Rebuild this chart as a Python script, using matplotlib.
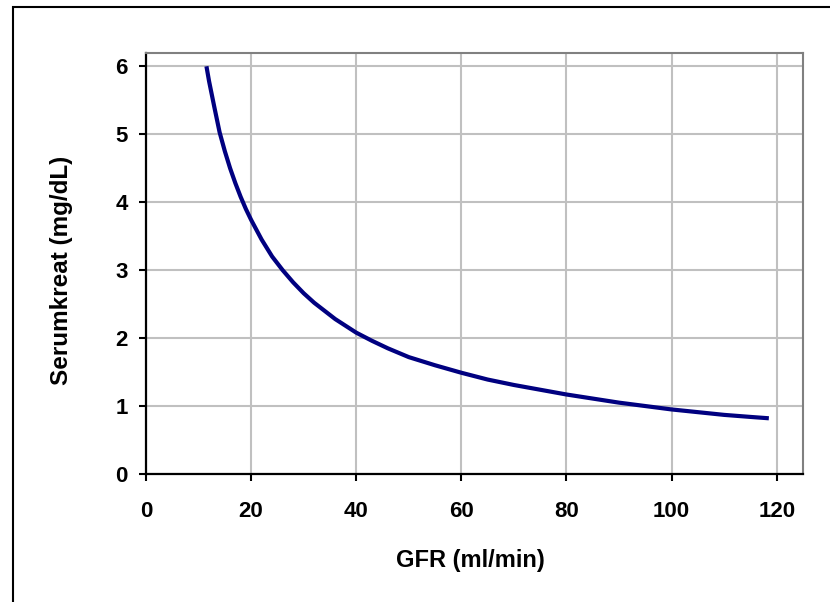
import matplotlib
matplotlib.use("Agg")
import matplotlib.pyplot as plt
from matplotlib.patches import Rectangle

gfr = [11.5, 12, 13, 14, 15, 16, 17, 18, 19, 20, 22, 24, 26, 28, 30, 32, 34, 36, 38, 40,
       43, 46, 50, 55, 60, 65, 70, 75, 80, 85, 90, 95, 100, 105, 110, 115, 118.5]
creat = [6.0, 5.78, 5.4, 5.03, 4.75, 4.5, 4.28, 4.08, 3.9, 3.74, 3.45, 3.2, 3.0, 2.82, 2.66,
         2.52, 2.4, 2.28, 2.18, 2.08, 1.96, 1.85, 1.72, 1.6, 1.49, 1.39, 1.31, 1.24, 1.17,
         1.11, 1.05, 1.0, 0.95, 0.91, 0.87, 0.84, 0.82]
xticks = [0, 20, 40, 60, 80, 100, 120]
yticks = [0, 1, 2, 3, 4, 5, 6]

plt.rcParams['font.family'] = ['Liberation Sans', 'DejaVu Sans']
plt.rcParams['font.weight'] = 'bold'

fig = plt.figure(figsize=(8.3, 6.02), dpi=100)
W, H = 830, 602
ax = fig.add_axes([146 / W, 1 - 474 / H, (803 - 146) / W, (474 - 52.7) / H])

ax.plot(gfr, creat, color='#000080', lw=3.0, solid_capstyle='butt', zorder=3)

ax.set_xlim(0, 125)
ax.set_ylim(0, 6.2)
ax.set_xticks(xticks)
ax.set_yticks(yticks)
ax.grid(True, color='#c0c0c0', lw=1.5, zorder=0)
ax.set_axisbelow(True)

for s in ['top', 'right']:
    ax.spines[s].set_color('#808080')
    ax.spines[s].set_linewidth(1.5)
for s in ['left', 'bottom']:
    ax.spines[s].set_color('black')
    ax.spines[s].set_linewidth(1.6)

ax.tick_params(axis='x', direction='out', length=5, width=1.5, pad=14.5, labelsize=16)
ax.tick_params(axis='y', direction='out', length=5, width=1.5, pad=8, labelsize=16)
for lab in ax.get_xticklabels() + ax.get_yticklabels():
    lab.set_fontweight('bold')

ax.set_xlabel('GFR (ml/min)', fontsize=17, fontweight='bold', va='center')
ax.xaxis.set_label_coords((470 - 146) / 657, (474 - 560) / 421.3)
ax.set_ylabel('Serumkreat (mg/dL)', fontsize=17.5, fontweight='bold', va='center')
ax.yaxis.set_label_coords((62 - 146) / 657, (474 - 270) / 421.3)

fig.patches.append(Rectangle((13 / W, -0.2), 1.2, 1.2 - 6.5 / H, transform=fig.transFigure,
                             fill=False, edgecolor='black', lw=1.5))

fig.savefig('out.png', dpi=100)
